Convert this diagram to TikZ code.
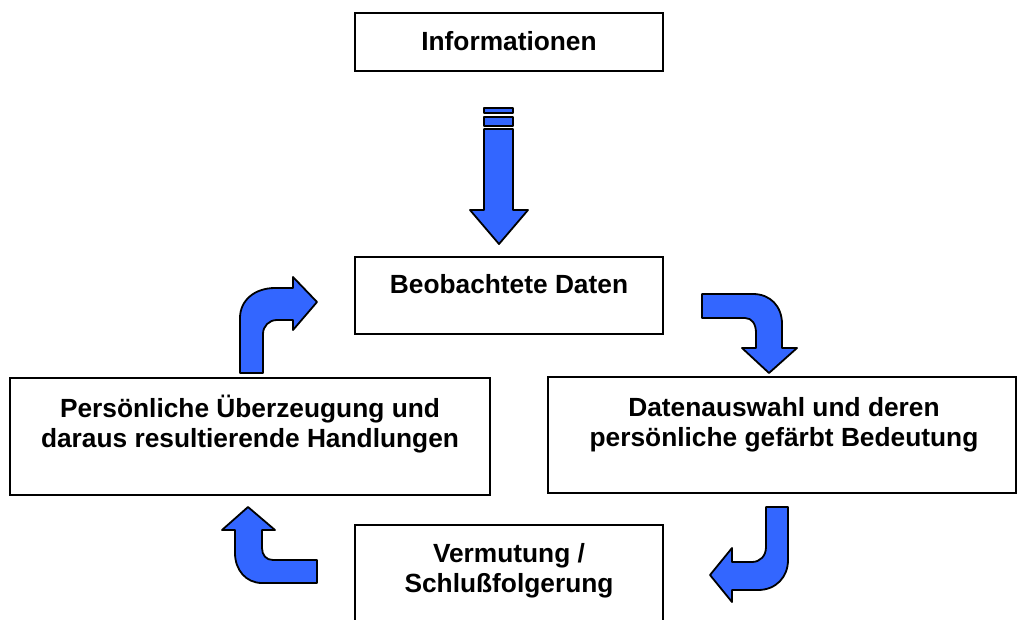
\documentclass[tikz,border=0pt]{standalone}
\usepackage{fontspec}
\setmainfont{Liberation Sans}
\definecolor{pfeilblau}{RGB}{51,102,255}
\begin{document}
\begin{tikzpicture}[x=1pt,y=-1pt]
          \tikzstyle{box}=[draw,line width=2pt,shape=rectangle,inner sep=0pt];
          \tikzstyle{txt}=[anchor=base,align=center,inner sep=0pt,font=\fontsize{26.3}{30}\selectfont\bfseries];
          \tikzstyle{pfeil}=[draw,line width=1.8pt,fill=pfeilblau,line join=round];
          \useasboundingbox (0,0) rectangle (1017,619);
          \clip (0,0) rectangle (1017,619);
          %\node (name) at (x,y) [box,minimum width=w,minimum height=h] {};
          %\node (name) at (x,last baseline) [txt] {text};
          \node (info) at (509,42) [box,minimum width=308pt,minimum height=58pt] {};
          \node (beob) at (509,295.5) [box,minimum width=308pt,minimum height=77pt] {};
          \node (links) at (250,436.5) [box,minimum width=480pt,minimum height=117pt] {};
          \node (rechts) at (782,435) [box,minimum width=468pt,minimum height=116pt] {};
          \node (verm) at (509,592) [box,minimum width=308pt,minimum height=134pt] {};
          \node (infotxt) at (509,50) [txt] {Informationen};
          \node (beobtxt) at (509,293) [txt] {Beobachtete Daten};
          \node (linkstxt) at (250,447) [txt] {Persönliche Überzeugung und\\daraus resultierende Handlungen};
          \node (rechtstxt) at (784,446) [txt] {Datenauswahl und deren\\persönliche gefärbt Bedeutung};
          \node (vermtxt) at (509,592) [txt] {Vermutung /\\Schlußfolgerung};
          %\draw [pfeil] ... -- cycle;
          \draw[pfeil] (484,108) rectangle (513,113);
          \draw[pfeil] (484,117) rectangle (513,126);
          \draw[pfeil] (484,129) -- (513,129) -- (513,210) -- (528,210) -- (499,244) -- (470,210) -- (484,210) -- cycle;
          \draw[pfeil] (702,294) -- (753,294) .. controls (770,294) and (782,306) .. (782,324) -- (782,348) -- (797,348) -- (769,373) -- (742,348) -- (756,348) -- (756,333) .. controls (756,324) and (752,318) .. (745,318) -- (702,318) -- cycle;
          \draw[pfeil] (766,507) -- (788,507) -- (788,560) .. controls (788,577) and (776,590) .. (758,590) -- (732,590) -- (732,602) -- (710,575) -- (732,548) -- (732,562) -- (752,562) .. controls (760,562) and (766,556) .. (766,547) -- cycle;
          \draw[pfeil] (317,560) -- (317,583) -- (262,583) .. controls (246,583) and (235,570) .. (235,553) -- (235,530) -- (222,530) -- (248,507) -- (275,530) -- (262,530) -- (262,548) .. controls (262,555) and (266,560) .. (273,560) -- cycle;
          \draw[pfeil] (240,373) -- (240,318) .. controls (240,300) and (255,288) .. (275,288) -- (293,288) -- (293,277) -- (317,302) -- (293,330) -- (293,320) -- (277,320) .. controls (269,320) and (263,326) .. (263,334) -- (263,373) -- cycle;
      \end{tikzpicture}
\end{document}
